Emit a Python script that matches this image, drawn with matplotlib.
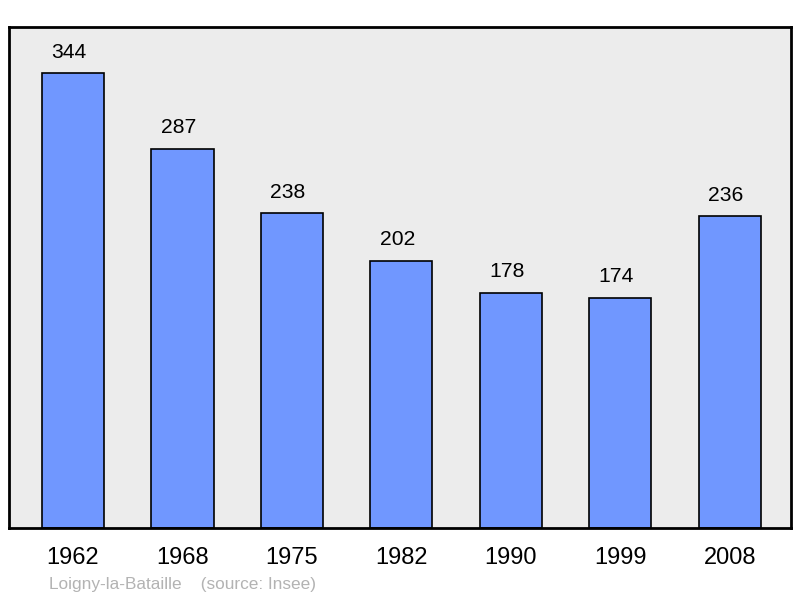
import matplotlib
matplotlib.use("Agg")
import matplotlib.pyplot as plt

years = ["1962", "1968", "1975", "1982", "1990", "1999", "2008"]
population = [344, 287, 238, 202, 178, 174, 236]
source_text = "Loigny-la-Bataille    (source: Insee)"

plt.rcParams['font.family'] = ['Liberation Sans', 'DejaVu Sans']

fig = plt.figure(figsize=(8, 5.98), dpi=100)
ax = fig.add_axes([9/800, 1 - 528/598, 782/800, 501/598])
ax.set_facecolor("#ececec")

x = list(range(len(years)))
bars = ax.bar(x, population, width=0.567, color="#7097ff", edgecolor="black", linewidth=1.2, zorder=2)
for xi, v in zip(x, population):
    ax.annotate(str(v), (xi, v), xytext=(-4, 21), textcoords="offset pixels",
                ha="center", va="center", fontsize=15.2, color="black")

ax.set_xlim(-0.585, 6.56)
ax.set_ylim(0, 379)
ax.set_yticks([])
ax.set_xticks(x)
ax.set_xticklabels(years, fontsize=17)
ax.tick_params(axis="x", length=0, pad=14)
for s in ax.spines.values():
    s.set_linewidth(2)
    s.set_color("black")

fig.text(49/800, 1 - 584/598, source_text, fontsize=12.4, color="#b3b3b3", ha="left", va="center")

fig.savefig("out.png", dpi=100)
